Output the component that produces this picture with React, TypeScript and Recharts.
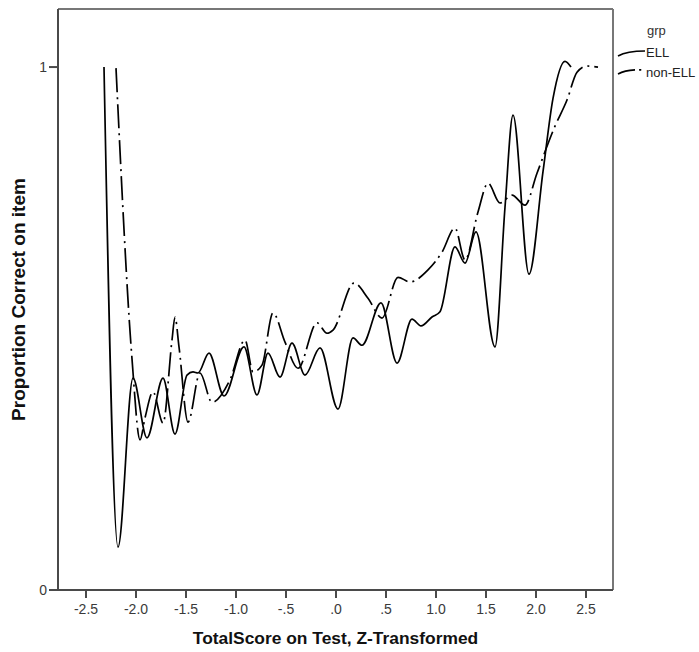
import React from "react";
import { LineChart, Line, XAxis, YAxis, Label, ReferenceLine } from "recharts";

// proportion correct by z-score, one smoothed curve per group
const ellX = [-2.32, -2.18, -2.03, -1.89, -1.73, -1.61, -1.49, -1.43, -1.38, -1.27, -1.12, -0.92, -0.79, -0.68, -0.56, -0.44, -0.31, -0.16, 0.02, 0.17, 0.26, 0.45, 0.61, 0.76, 0.85, 0.96, 1.04, 1.19, 1.29, 1.4, 1.59, 1.69, 1.77, 1.93, 2.07, 2.17, 2.29, 2.35];
const ellY = [1.0, 0.082, 0.405, 0.291, 0.405, 0.298, 0.411, 0.417, 0.415, 0.453, 0.371, 0.465, 0.373, 0.453, 0.407, 0.472, 0.411, 0.463, 0.346, 0.482, 0.468, 0.549, 0.434, 0.518, 0.505, 0.522, 0.532, 0.656, 0.625, 0.685, 0.465, 0.732, 0.908, 0.604, 0.8, 0.94, 1.011, 1.0];

const nonEllX = [-2.2, -2.04, -1.96, -1.91, -1.83, -1.73, -1.64, -1.61, -1.57, -1.48, -1.36, -1.24, -1.06, -0.91, -0.83, -0.74, -0.63, -0.51, -0.38, -0.19, -0.09, -0.03, 0.18, 0.32, 0.46, 0.62, 0.74, 0.92, 1.06, 1.19, 1.29, 1.42, 1.52, 1.64, 1.76, 1.89, 2.01, 2.19, 2.31, 2.41, 2.51, 2.62];
const nonEllY = [0.998, 0.442, 0.287, 0.329, 0.379, 0.319, 0.478, 0.522, 0.465, 0.321, 0.415, 0.359, 0.402, 0.478, 0.417, 0.43, 0.53, 0.474, 0.424, 0.511, 0.491, 0.497, 0.587, 0.558, 0.52, 0.598, 0.589, 0.612, 0.646, 0.692, 0.631, 0.723, 0.778, 0.74, 0.755, 0.736, 0.797, 0.887, 0.937, 0.99, 1.002, 1.0];

const xTicks = [-2.5, -2, -1.5, -1, -0.5, 0, 0.5, 1, 1.5, 2, 2.5];
const yTicks = [0, 1];
const xDomain = [-2.78, 2.77];
const yDomain = [0, 1.111];

const ellData = ellX.map((z, i) => ({ z, p: ellY[i] }));
const nonEllData = nonEllX.map((z, i) => ({ z, p: nonEllY[i] }));

const FONT = "'Liberation Sans', Arial, sans-serif";
const AXIS = "#4a4a4a";
const FRAME = "#777";

// SPSS style: drop the leading zero (".5", "-.5", ".0")
const fmtX = (v: number) => {
  const s = v.toFixed(1);
  return s.replace(/^(-?)0\./, "$1.");
};

function GroupLegend() {
  return (
    <svg width={90} height={90} style={{ position: "absolute", left: 609, top: 0 }}>
      <text x={38} y={35} fontFamily={FONT} fontSize={13} fill="#333">grp</text>
      <path d="M9,56 Q18,51 36,51" fill="none" stroke="#000" strokeWidth={1.6} />
      <text x={37} y={57} fontFamily={FONT} fontSize={13} fill="#222">ELL</text>
      <path d="M9,74 Q18,69 34,70" fill="none" stroke="#000" strokeWidth={1.6} strokeDasharray="18 4 2 4" />
      <text x={37} y={77} fontFamily={FONT} fontSize={13} fill="#222">non-ELL</text>
    </svg>
  );
}

export default function App() {
  return (
    <div style={{ position: "absolute", left: 0, top: 0, width: 699, height: 652, background: "#fff" }}>
      <LineChart width={699} height={652} margin={{ top: 9, right: 86, bottom: 0, left: 0 }}>
        <XAxis
          dataKey="z"
          type="number"
          domain={xDomain}
          ticks={xTicks}
          tickFormatter={fmtX}
          allowDataOverflow
          height={62}
          tickSize={8}
          axisLine={{ stroke: AXIS, strokeWidth: 2 }}
          tickLine={{ stroke: AXIS, strokeWidth: 2 }}
          tick={{ fill: "#3a3a3a", fontSize: 14, fontFamily: FONT, dy: 4 }}
        >
          <Label
            value="TotalScore on Test, Z-Transformed"
            position="insideBottom"
            offset={8}
            style={{ fontFamily: FONT, fontSize: 17.4, fontWeight: "bold", fill: "#111" }}
          />
        </XAxis>
        <YAxis
          type="number"
          domain={yDomain}
          ticks={yTicks}
          allowDataOverflow
          width={58}
          tickSize={9}
          axisLine={{ stroke: AXIS, strokeWidth: 2 }}
          tickLine={{ stroke: AXIS, strokeWidth: 2 }}
          tick={{ fill: "#3a3a3a", fontSize: 14, fontFamily: FONT }}
        >
          <Label
            value="Proportion Correct on item"
            angle={-90}
            position="insideLeft"
            offset={18}
            style={{ fontFamily: FONT, fontSize: 19, fontWeight: "bold", fill: "#111", textAnchor: "middle" }}
          />
        </YAxis>
        {/* frame on the top and right of the plot */}
        <ReferenceLine y={yDomain[1]} stroke={FRAME} strokeWidth={2} />
        <ReferenceLine x={xDomain[1]} stroke={FRAME} strokeWidth={2} />
        <Line
          data={ellData}
          dataKey="p"
          type="monotone"
          stroke="#000"
          strokeWidth={1.7}
          dot={false}
          isAnimationActive={false}
        />
        <Line
          data={nonEllData}
          dataKey="p"
          type="monotone"
          stroke="#000"
          strokeWidth={1.7}
          strokeDasharray="24 5 2 5"
          dot={false}
          isAnimationActive={false}
        />
      </LineChart>
      <GroupLegend />
    </div>
  );
}
